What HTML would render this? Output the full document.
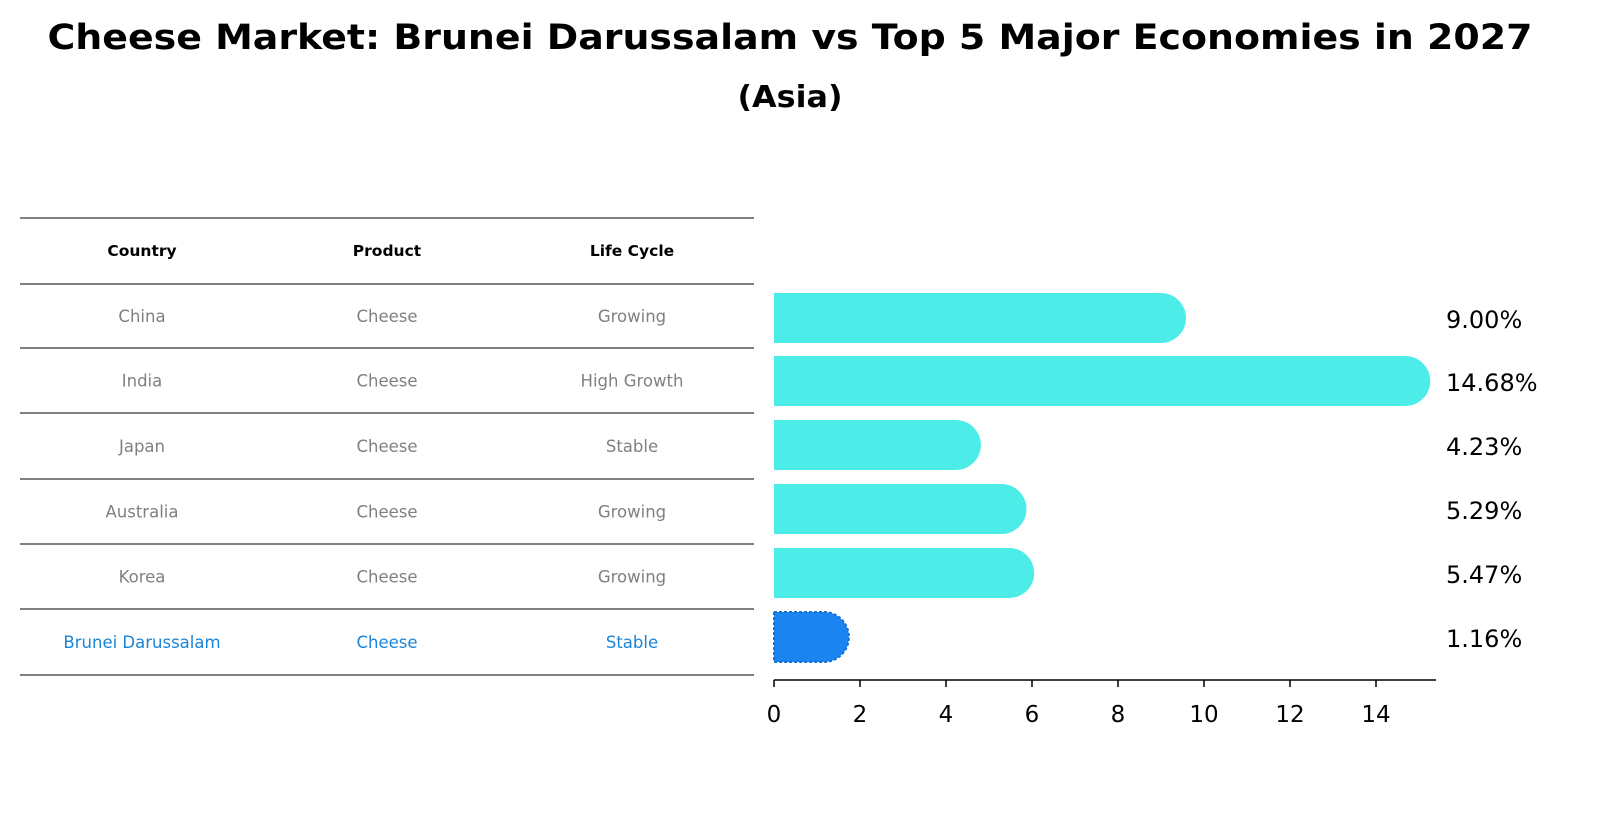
<!DOCTYPE html>
<html><head><meta charset="utf-8"><style>
html,body{margin:0;padding:0;background:#fff;overflow:hidden;width:1604px;height:823px}
svg{display:block}
</style></head><body>
<svg width="1604" height="823" xmlns="http://www.w3.org/2000/svg" font-family="DejaVu Sans, Liberation Sans, sans-serif">
<text x="790" y="49" text-anchor="middle" font-size="35" font-weight="bold" textLength="1485" lengthAdjust="spacingAndGlyphs">Cheese Market: Brunei Darussalam vs Top 5 Major Economies in 2027</text>
<text x="790" y="107" text-anchor="middle" font-size="30" font-weight="bold" textLength="105" lengthAdjust="spacingAndGlyphs">(Asia)</text>
<g id="table"></g>
<g id="bars"></g>
</svg>
<script>
const countries=["China","India","Japan","Australia","Korea","Brunei Darussalam"];
const products=["Cheese","Cheese","Cheese","Cheese","Cheese","Cheese"];
const lifecycle=["Growing","High Growth","Stable","Growing","Growing","Stable"];
const values=[9.00,14.68,4.23,5.29,5.47,1.16];
const ticks=[0,2,4,6,8,10,12,14];
const NS="http://www.w3.org/2000/svg";
function mk(t,a,p,txt){const e=document.createElementNS(NS,t);for(const k in a)e.setAttribute(k,a[k]);if(txt!==undefined)e.textContent=txt;p.appendChild(e);return e;}
const tb=document.getElementById('table');
const lines=[218,284,348,413,479,544,609,675];
lines.forEach((y,i)=>{const l=mk('line',{x1:20,x2:754,y1:y,y2:y,stroke:'#000','stroke-width':1},tb);
});
const cx=[142,387,632];
["Country","Product","Life Cycle"].forEach((h,i)=>{const t=mk('text',{x:cx[i],y:256,'text-anchor':'middle','font-size':15.5,'font-weight':'bold'},tb,h);
});
countries.forEach((c,r)=>{const y=(lines[r+1]+lines[r+2])/2+6;const col=r==5?'#1a85d8':'#808080';
[c,products[r],lifecycle[r]].forEach((v,i)=>{const t=mk('text',{x:cx[i],y:y,'text-anchor':'middle','font-size':16.5,fill:col},tb,v);
});});
const bg=document.getElementById('bars');
const x0=774,sc=43;const X=v=>x0+v*sc;
const yc=[318,381,445,509,573,637],h=50,r=25;
values.forEach((v,i)=>{const xe=X(v),yt=yc[i]-h/2;const last=i==values.length-1;
const p=mk('path',{d:`M${x0},${yt}H${xe}A${r},${r} 0 0 1 ${xe},${yt+h}H${x0}Z`,fill:last?'#1a85f0':'#4cede9',stroke:last?'#1670d0':'none','stroke-width':last?2:0,'stroke-dasharray':last?'3,2':'none'},bg);

const t=mk('text',{x:1446,y:yc[i]+10,'font-size':24},bg,v.toFixed(2)+'%');
});
const ax=mk('line',{x1:774,x2:1436,y1:680,y2:680,stroke:'#000','stroke-width':1.5},bg);

ticks.forEach(tk=>{const l=mk('line',{x1:X(tk),x2:X(tk),y1:680,y2:687,stroke:'#000','stroke-width':1.5},bg);

const t=mk('text',{x:X(tk),y:722,'text-anchor':'middle','font-size':23},bg,tk);
});
</script>
</body></html>
